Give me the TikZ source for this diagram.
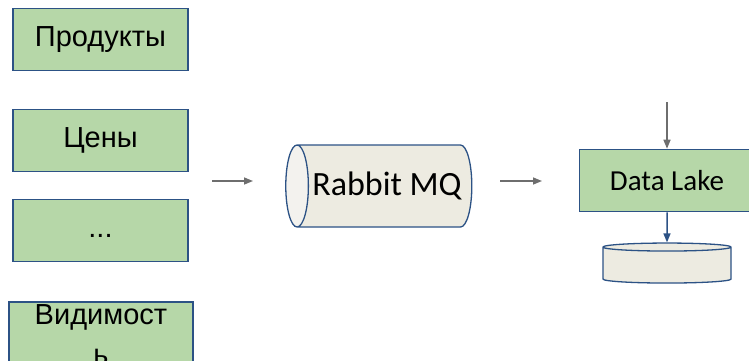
\documentclass[tikz,border=0pt]{standalone}
\usepackage{fontspec}
\setmainfont{Liberation Sans}
\newfontfamily\calibri{Carlito}
\usetikzlibrary{positioning, arrows.meta, shapes, calc}
\definecolor{cBox}{HTML}{B6D7A8}
\definecolor{cEdge}{HTML}{2C5285}
\definecolor{cQueue}{HTML}{EDEBE1}
\definecolor{cQueueEnd}{HTML}{F3F2EE}
\definecolor{cArrow}{HTML}{6E6E6E}

\tikzset{
  srcbox/.style={draw=cEdge, fill=cBox, line width=1.6pt, minimum width=175pt, minimum height=62pt,
    font=\fontsize{29pt}{40pt}\selectfont},
  flow/.style={cArrow, line width=1.5pt, -{Triangle[length=9pt,width=7pt]}}
}

\begin{document}
\begin{tikzpicture}[x=1pt, y=-1pt]
      \useasboundingbox (0,0) rectangle (749,360);
      \clip (0,0) rectangle (749,360);
      \node[srcbox] (prod) at (100.5,39.5) {Продукты};
      \node[srcbox] (price) at (100.5,140.5) {Цены};
      \node[srcbox] (etc) at (100.5,230.5) {\vphantom{Цу}...};
      \node[srcbox, minimum width=184pt, minimum height=0pt, text width=175pt, align=center,
        inner ysep=3pt, anchor=north] (vis) at (101,301) {Видимост\\ь};
      \node[cylinder, draw=cEdge, line width=1.3pt, shape border rotate=180, aspect=0.65,
        cylinder uses custom fill, cylinder body fill=cQueue, cylinder end fill=cQueueEnd,
        minimum width=82pt, minimum height=184pt, font=\calibri\fontsize{34pt}{38pt}\selectfont]
        (mq) at (387,186) {Rabbit MQ};
      \node[srcbox, font=\calibri\fontsize{29pt}{32pt}\selectfont] (lake) at (667,180.5) {Data Lake};
      \node[cylinder, draw=cEdge, line width=1.3pt, shape border rotate=90, aspect=1.2,
        fill=cQueue, minimum width=128pt, minimum height=40pt] (disk) at (667,266) {};
      \coordinate (in1) at (212,181);
      \coordinate (in2) at (253,181);
      \coordinate (out1) at (500,181);
      \coordinate (out2) at (542,181);
      \coordinate (feed) at (667,102);
      \draw[flow] (in1) -- (in2);
      \draw[flow] (out1) -- (out2);
      \draw[flow] (feed) -- (lake.north);
      \draw[flow, cEdge] (lake.south) -- (disk.north);
    \end{tikzpicture}
\end{document}
